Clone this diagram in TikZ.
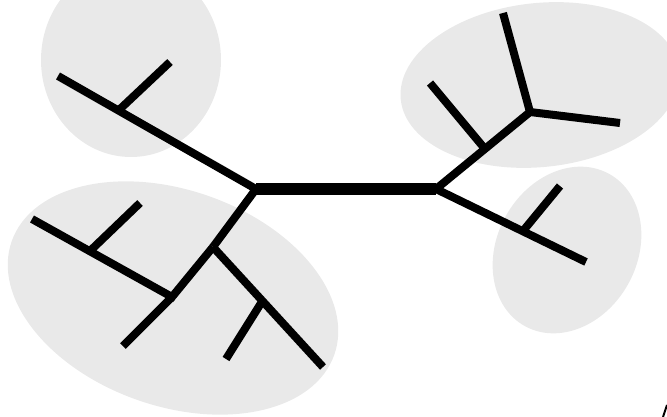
\documentclass[tikz,border=0pt]{standalone}
\definecolor{blobgray}{RGB}{233,233,233}
\begin{document}
\begin{tikzpicture}[x=1pt,y=-1pt,
  blob/.style={fill=blobgray,draw=none},
  edge/.style={draw=black,line width=8pt,line cap=butt,line join=miter},
  stem/.style={draw=black,line width=12.5pt,line cap=butt}]
\useasboundingbox (0,0) rectangle (667,417);
% clusters
\fill[blob] (131,60) ellipse [x radius=90pt, y radius=97pt];
\fill[blob,rotate around={6:(540,85)}] (540,85) ellipse [x radius=140pt, y radius=82pt];
\fill[blob,rotate around={-19.4:(173,298)}] (173,298) ellipse [x radius=171pt, y radius=108pt];
\fill[blob,rotate around={-29:(567,250)}] (567,250) ellipse [x radius=70pt, y radius=87pt];
% coordinates
\coordinate (L) at (256,189);
\coordinate (R) at (436,189);
\coordinate (tl) at (58,76);
\coordinate (tlj) at (119,110);
\coordinate (tls) at (170,62);
\coordinate (j1) at (213,247);
\coordinate (j2) at (172,297);
\coordinate (a) at (32,219);
\coordinate (aj) at (90,251);
\coordinate (as) at (140,203);
\coordinate (b) at (123,346);
\coordinate (j4) at (263,300);
\coordinate (j4s) at (226,359);
\coordinate (c) at (323,367);
\coordinate (j3) at (530,112);
\coordinate (tru) at (503,13);
\coordinate (trr) at (620,123);
\coordinate (trj) at (485,149);
\coordinate (trs) at (430,83);
\coordinate (br) at (586,262);
\coordinate (brj) at (523,231);
\coordinate (brs) at (560,186);
\coordinate (m1) at (663,417);
\coordinate (m2) at (667,405);
% tree
\draw[edge] (tlj) -- (tls);
\draw[edge] (tl) -- (L) -- (j1);
\draw[edge] (j1) -- (j2) -- (a);
\draw[edge] (aj) -- (as);
\draw[edge] (j2) -- (b);
\draw[edge] (j1) -- (c);
\draw[edge] (j4) -- (j4s);
\draw[edge] (trj) -- (trs);
\draw[edge] (R) -- (j3) -- (tru);
\draw[edge] (j3) -- (trr);
\draw[edge] (R) -- (br);
\draw[edge] (brj) -- (brs);
\draw[stem] (L) -- (R);
\draw[line width=2pt] (m1) -- (m2);
\end{tikzpicture}
\end{document}
